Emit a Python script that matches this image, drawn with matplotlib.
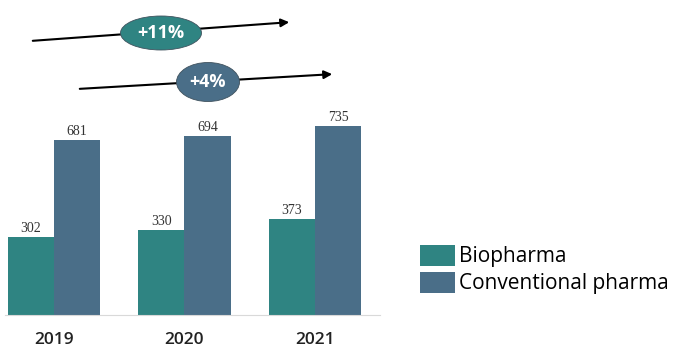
import matplotlib
matplotlib.use("Agg")
import matplotlib.pyplot as plt
from matplotlib.patches import Ellipse, Patch
import numpy as np

years = ["2019", "2020", "2021"]
biopharma = [302, 330, 373]
conventional = [681, 694, 735]
growth_labels = ["+11%", "+4%"]

teal = "#2F8482"
slate = "#4A6E88"

W, H = 674, 347
fig = plt.figure(figsize=(W / 100, H / 100), dpi=100)

# bar axes, placed in pixel units
left_px, right_px, base_px = 5, 380, 315
ax = fig.add_axes([left_px / W, (H - base_px) / H, (right_px - left_px) / W, base_px / H])
x = np.arange(len(years))
bw = 0.355
ax.bar(x - bw / 2, biopharma, bw, color=teal)
ax.bar(x + bw / 2, conventional, bw, color=slate)
ax.set_xlim(-0.375, 2.499)
ax.set_ylim(0, 315 / 0.2575)
for i in range(len(years)):
    ax.text(x[i] - bw / 2, biopharma[i] + 8, str(biopharma[i]), ha="center", va="bottom",
            fontsize=10, color="#333333", family="Liberation Serif")
    ax.text(x[i] + bw / 2, conventional[i] + 8, str(conventional[i]), ha="center", va="bottom",
            fontsize=10, color="#333333", family="Liberation Serif")
for s in ["top", "right", "left"]:
    ax.spines[s].set_visible(False)
ax.spines["bottom"].set_color("#D9D9D9")
ax.set_yticks([])
ax.set_xticks(x)
ax.set_xticklabels(years, fontsize=12.5, fontweight="semibold", color="#222222", family="Open Sans")
ax.tick_params(axis="x", length=0, pad=12)

# growth arrows overlay
ov = fig.add_axes([0, 0, 1, 1])
ov.set_xlim(0, W)
ov.set_ylim(H, 0)
ov.axis("off")
ov.patch.set_alpha(0)
arrows = [((30, 41), (292, 22), (161, 33), 81, 34, teal),
          ((77, 89), (335, 74), (208, 82), 63, 39, slate)]
for (start, end, c, ew, eh, col), lab in zip(arrows, growth_labels):
    ov.annotate("", xy=end, xytext=start,
                arrowprops=dict(arrowstyle="-|>", color="black", lw=1.5, mutation_scale=12))
    ov.add_patch(Ellipse(c, ew, eh, facecolor=col, edgecolor="#40525E", lw=0.6, zorder=3))
    ov.text(c[0], c[1], lab, ha="center", va="center", color="white", fontsize=13,
            fontweight="bold", family="Open Sans", zorder=4)

handles = [Patch(facecolor=teal), Patch(facecolor=slate)]
fig.legend(handles, ["Biopharma", "Conventional pharma"], loc="upper left",
           bbox_to_anchor=(401 / W, 1 - 226 / H), frameon=False,
           prop={"family": "Open Sans", "size": 15}, handlelength=1.7, handleheight=1.2,
           handletextpad=0.2, labelspacing=0.2)

fig.savefig("out.png", dpi=100)
